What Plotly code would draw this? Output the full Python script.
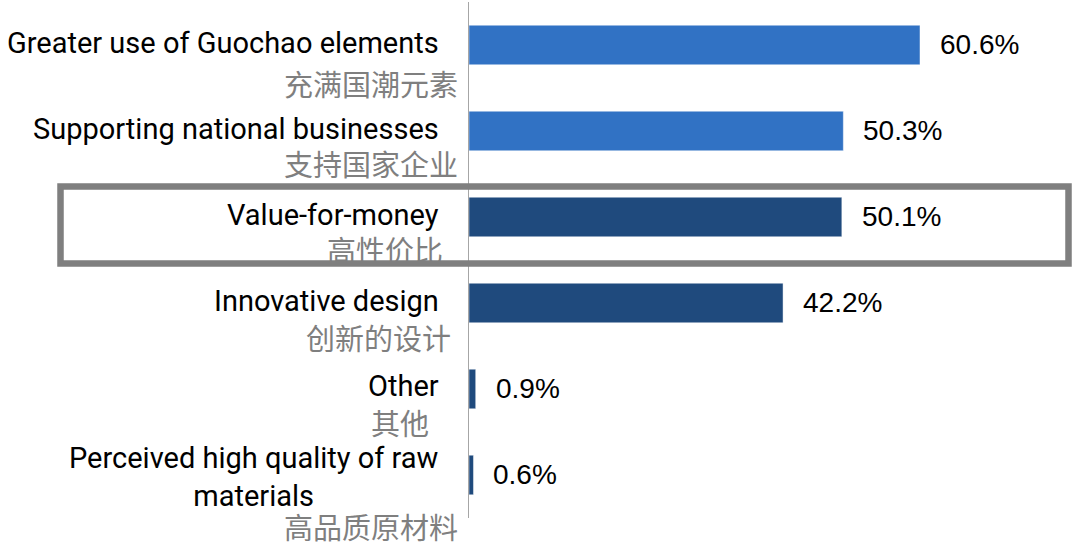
import plotly.graph_objects as go

# Survey reasons, top to bottom
labels_en = [
    "Greater use of Guochao elements",
    "Supporting national businesses",
    "Value-for-money",
    "Innovative design",
    "Other",
    "Perceived high quality of raw<br>materials",
]
labels_cn = ["充满国潮元素", "支持国家企业", "高性价比", "创新的设计", "其他", "高品质原材料"]
values = [60.6, 50.3, 50.1, 42.2, 0.9, 0.6]

LIGHT_BLUE = "#3172C4"
NAVY = "#1F4A7D"
bar_colors = [LIGHT_BLUE, LIGHT_BLUE, NAVY, NAVY, NAVY, NAVY]

# vertical pixel offsets of the English labels and Chinese sub-labels
en_shift = [2, 2, 2, 2, 3, -2]
cn_shift = [-38, -32, -32, -34, -33, -51]

W, H = 1076, 548
M_L, M_R, M_T, M_B = 469, 0, 2, 30
PX_PER_UNIT = 7.442
x_max = (W - M_L - M_R) / PX_PER_UNIT

cats = list(range(len(values)))

fig = go.Figure(
    go.Bar(
        x=values,
        y=cats,
        orientation="h",
        width=0.46,
        marker=dict(color=bar_colors, line=dict(color="rgba(255,255,255,0.45)", width=1)),
        hoverinfo="skip",
    )
)

annotations = []
for i, (en, cn, v) in enumerate(zip(labels_en, labels_cn, values)):
    two_line = "<br>" in en
    annotations.append(dict(
        x=0, y=i, xref="x", yref="y", text=en, showarrow=False,
        xanchor="right", yanchor="middle", align="center" if two_line else "right",
        xshift=-28, yshift=en_shift[i],
        font=dict(family="Roboto", size=29, color="#000000"),
    ))
    # shorter Chinese captions sit a little further left
    annotations.append(dict(
        x=0, y=i, xref="x", yref="y", text=cn, showarrow=False,
        xanchor="right", yanchor="middle", align="right",
        xshift=-9 - 7.3 * (6 - len(cn)), yshift=cn_shift[i],
        font=dict(family="Noto Sans CJK SC", size=29, color="#7F7F7F"),
    ))
    annotations.append(dict(
        x=v, y=i, xref="x", yref="y", text=f"{v:.1f}%", showarrow=False,
        xanchor="left", yanchor="middle", xshift=18, yshift=1,
        font=dict(family="Liberation Sans", size=28, color="#000000"),
    ))

plot_w = W - M_L - M_R
plot_h = H - M_T - M_B


def px_to_paper_x(px):
    return (px - M_L) / plot_w


def px_to_paper_y(py):
    return (H - M_B - py) / plot_h


# highlight frame around the "Value-for-money" row
shapes = [dict(
    type="rect", xref="paper", yref="paper",
    x0=px_to_paper_x(60.5), x1=px_to_paper_x(1068.5),
    y0=px_to_paper_y(263.5), y1=px_to_paper_y(186.5),
    line=dict(color="#7F7F7F", width=6.5), fillcolor="rgba(0,0,0,0)",
    layer="above",
)]

fig.update_layout(
    width=W, height=H,
    margin=dict(l=M_L, r=M_R, t=M_T, b=M_B, pad=0),
    paper_bgcolor="white", plot_bgcolor="white",
    showlegend=False,
    annotations=annotations,
    shapes=shapes,
    xaxis=dict(range=[0, x_max], visible=False, fixedrange=True),
    yaxis=dict(
        range=[len(values) - 0.5, -0.5],
        showticklabels=False, ticks="", showgrid=False, zeroline=False,
        showline=True, linecolor="#A6A6A6", linewidth=1.3,
        fixedrange=True,
    ),
    bargap=0.5,
)

fig.write_html("out.html", config={"displayModeBar": False})
